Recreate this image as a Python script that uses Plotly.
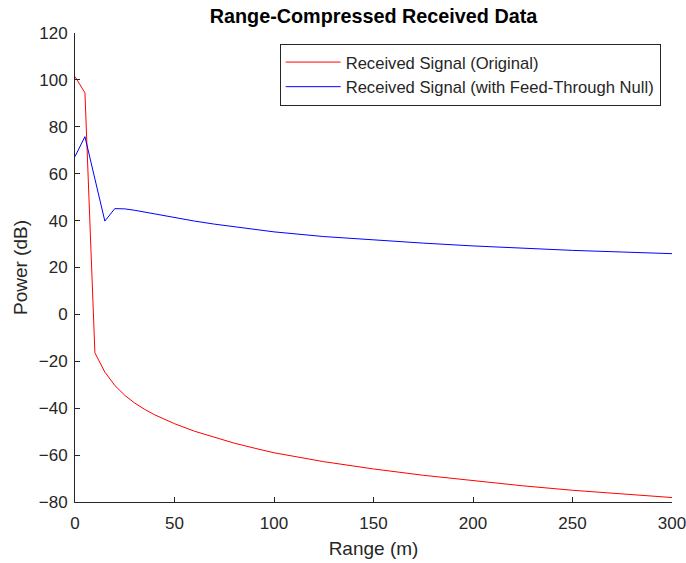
import plotly.graph_objects as go

range_m = [0, 5, 10, 15, 20, 25, 30, 35, 40, 50, 60, 70, 80, 90, 100,
           125, 150, 175, 200, 225, 250, 275, 300]
power_original = [101.4, 94.5, -16.4, -24.6, -30.3, -34.5, -37.8, -40.5, -42.8,
                  -46.6, -49.8, -52.5, -54.9, -57.0, -59.0, -62.8, -65.9, -68.6,
                  -71.0, -73.1, -75.0, -76.7, -78.1]
power_null = [67.3, 75.8, 57.8, 39.8, 45.1, 45.0, 44.4, 43.6, 42.8, 41.2, 39.8,
              38.5, 37.3, 36.2, 35.2, 33.2, 31.7, 30.4, 29.2, 28.2, 27.3, 26.6, 25.9]

x_ticks = [0, 50, 100, 150, 200, 250, 300]
y_ticks = [-80, -60, -40, -20, 0, 20, 40, 60, 80, 100, 120]

fig = go.Figure()
fig.add_trace(go.Scatter(x=range_m, y=power_original, mode="lines",
                         name="Received Signal (Original)",
                         line=dict(color="#ff0000", width=1)))
fig.add_trace(go.Scatter(x=range_m, y=power_null, mode="lines",
                         name="Received Signal (with Feed-Through Null)",
                         line=dict(color="#0000ff", width=1)))

axis_common = dict(showgrid=False, zeroline=False, showline=True,
                   linecolor="#262626", linewidth=1, ticks="inside", ticklen=5,
                   tickcolor="#262626", tickfont=dict(size=17, color="#262626"),
                   mirror=False, automargin=False, ticklabeloverflow="allow")

fig.update_layout(
    width=686, height=563,
    margin=dict(l=75, r=14, t=33, b=61),
    paper_bgcolor="white", plot_bgcolor="white",
    font=dict(family="Liberation Sans, Arial, sans-serif", color="#262626"),
    title=dict(text="<b>Range-Compressed Received Data</b>", x=0.5,
               xref="paper", xanchor="center", y=1 - 16 / 563, yanchor="middle",
               font=dict(size=19.8, color="#000000")),
    xaxis=dict(range=[0, 300], tickvals=x_ticks, ticklabelstandoff=6,
               title=dict(text="Range (m)", font=dict(size=19, color="#262626"), standoff=9),
               **axis_common),
    yaxis=dict(range=[-80, 120], tickvals=y_ticks, ticklabelstandoff=3,
               title=dict(text="Power (dB)", font=dict(size=19, color="#262626"), standoff=6),
               **axis_common),
    legend=dict(x=0.981, y=0.977, xanchor="right", yanchor="top",
                bordercolor="#262626", borderwidth=1, bgcolor="white",
                font=dict(size=16.6, color="#262626"), tracegroupgap=0,
                itemwidth=55),
    showlegend=True,
)

fig.write_html("out.html")
